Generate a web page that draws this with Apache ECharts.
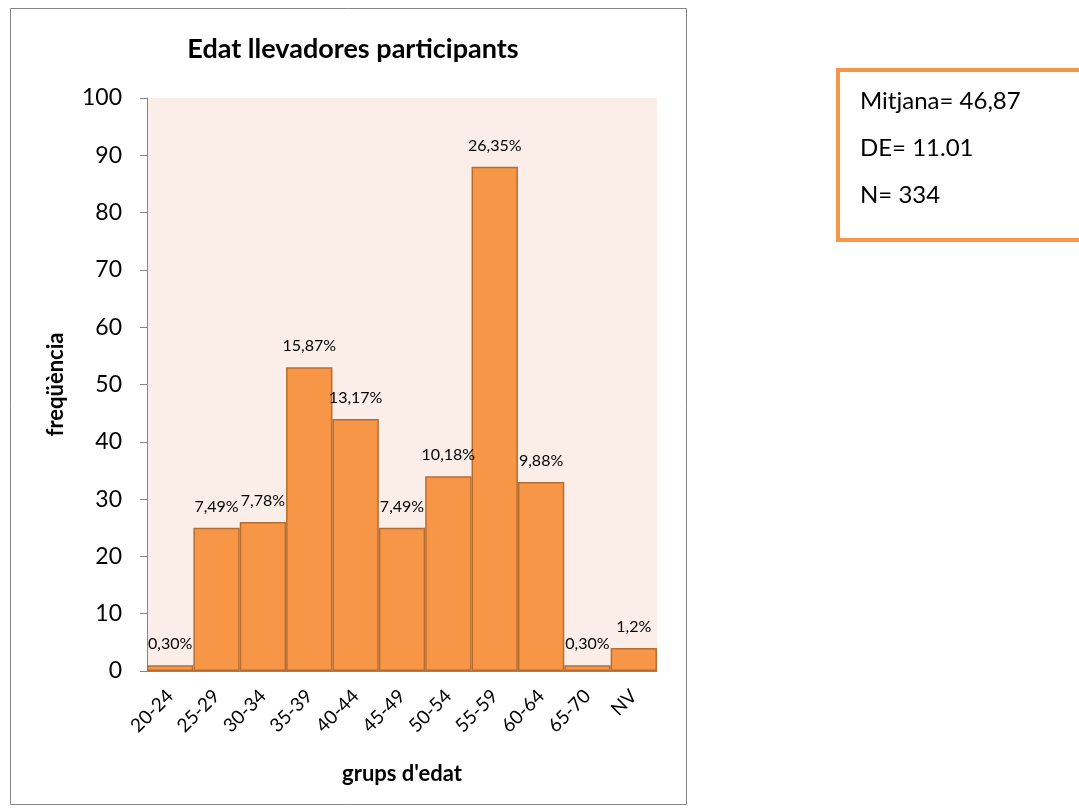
<!DOCTYPE html>
<html>
<head>
<meta charset="utf-8">
<script src="https://cdn.jsdelivr.net/npm/echarts@6/dist/echarts.min.js"></script>
<style>
  html, body { margin: 0; padding: 0; background: #fff; }
  #chart { width: 1079px; height: 812px; }
</style>
</head>
<body>
<div id="chart"></div>
<script>
// grups d'edat i freqüències
var categories = ["20-24", "25-29", "30-34", "35-39", "40-44", "45-49", "50-54", "55-59", "60-64", "65-70", "NV"];
var frequencies = [1, 25, 26, 53, 44, 25, 34, 88, 33, 1, 4];
var percentLabels = ["0,30%", "7,49%", "7,78%", "15,87%", "13,17%", "7,49%", "10,18%", "26,35%", "9,88%", "0,30%", "1,2%"];
var statLines = ["Mitjana= 46,87", "DE= 11.01", "N= 334"];

var font = "Lato, 'Noto Sans', sans-serif";
var myChart = echarts.init(document.getElementById("chart"));

var option = {
  backgroundColor: "#fff",
  title: {
    text: "Edat llevadores participants",
    left: 348,
    top: 31,
    textAlign: "center",
    textStyle: { fontFamily: font, fontSize: 27, fontWeight: "bold", color: "#000" },
  },
  grid: {
    left: 147,
    right: 422,
    top: 98,
    bottom: 141,
    show: true,
    backgroundColor: "#FBEEE9",
    borderWidth: 0,
  },
  xAxis: {
    type: "category",
    data: categories,
    name: "grups d'edat",
    nameLocation: "middle",
    nameGap: 92,
    nameTextStyle: { fontFamily: font, fontSize: 22, fontWeight: "bold", color: "#000" },
    axisLine: { lineStyle: { color: "#868686", width: 1 } },
    axisTick: { show: false },
    axisLabel: {
      rotate: 45,
      interval: 0,
      margin: 22,
      fontFamily: font,
      fontSize: 19,
      color: "#000",
    },
  },
  yAxis: {
    type: "value",
    min: 0,
    max: 100,
    interval: 10,
    name: "freqüència",
    nameLocation: "middle",
    nameGap: 80,
    nameTextStyle: { fontFamily: font, fontSize: 22, fontWeight: "bold", color: "#000" },
    axisLine: { show: true, lineStyle: { color: "#868686", width: 1 } },
    axisTick: { show: true, length: 7, lineStyle: { color: "#868686" } },
    splitLine: { show: false },
    axisLabel: { fontFamily: font, fontSize: 23, color: "#000", margin: 25 },
  },
  series: [
    {
      type: "bar",
      data: frequencies,
      barCategoryGap: 0,
      itemStyle: { color: "#F79646", borderColor: "#B66D31", borderWidth: 1.5 },
      label: {
        show: true,
        position: "top",
        distance: 13,
        fontFamily: font,
        fontSize: 16,
        color: "#000",
        formatter: function (p) {
          return percentLabels[p.dataIndex];
        },
      },
    },
  ],
  graphic: [
    {
      type: "rect",
      shape: { x: 10.5, y: 8.5, width: 676, height: 796 },
      style: { fill: "none", stroke: "#868686", lineWidth: 1 },
      silent: true,
    },
    {
      type: "rect",
      shape: { x: 838, y: 70, width: 245, height: 170 },
      style: { fill: "#fff", stroke: "#F79646", lineWidth: 4 },
      silent: true,
    },
  ].concat(
    statLines.map(function (t, i) {
      return {
        type: "text",
        left: 860,
        top: 89 + i * 47,
        style: { text: t, fontFamily: font, fontSize: 24, fill: "#000" },
      };
    })
  ),
};

myChart.setOption(option);
window.addEventListener("resize", function () {
  myChart.resize();
});
</script>
</body>
</html>
